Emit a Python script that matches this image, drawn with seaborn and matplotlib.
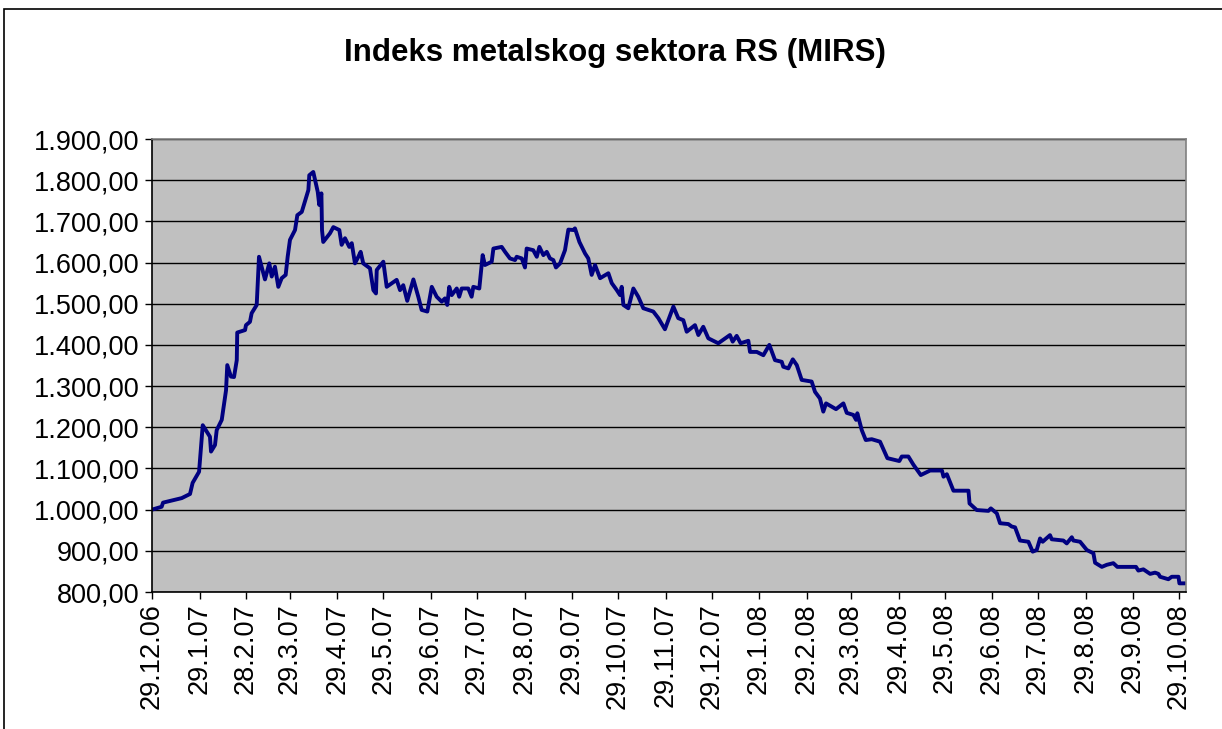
import pandas as pd
import matplotlib
matplotlib.use("Agg")
import matplotlib.pyplot as plt
import seaborn as sns
from matplotlib.patches import Rectangle
from matplotlib.ticker import FuncFormatter

# days after 29.12.2006 and index values
days = [0, 6.3, 7.2, 19.4, 24.8, 26.5, 30.7, 33.1, 37.8, 38.5, 41.1, 42.2, 45.5, 48.3, 49.1,
        51.5, 53.5, 55.3, 55.6, 60.7, 61.3, 63.9, 65.0, 68.3, 69.8, 73.7, 76.5, 78.1, 80.2,
        82.4, 84.6, 87.2, 88.5, 90.0, 93.3, 94.8, 97.7, 102.0, 102.6, 105.2, 108.1, 109.1,
        110.5, 110.9, 111.7, 116.1, 118.3, 122.2, 123.7, 125.9, 128.7, 130.3, 132.4, 134.6,
        136.1, 137.8, 142.2, 144.4, 146.1, 146.6, 150.9, 153.1, 159.6, 161.8, 163.9, 166.5,
        170.5, 173.7, 175.9, 179.6, 182.5, 185.7, 189.0, 191.1, 192.6, 193.9, 195.5, 198.8,
        200.4, 202.0, 206.3, 208.5, 209.6, 213.5, 215.7, 217.2, 221.6, 222.7, 228.1, 230.3,
        233.5, 236.8, 237.9, 241.2, 243.3, 244.4, 248.7, 251.0, 252.7, 255.3, 257.5, 259.6,
        261.8, 263.5, 266.2, 269.4, 271.6, 274.8, 275.9, 278.8, 282.5, 284.6, 286.8, 289.0,
        292.3, 297.7, 299.9, 303.2, 305.3, 306.4, 307.5, 310.7, 314.0, 317.2, 320.5, 327.0,
        330.3, 334.6, 336.8, 340.1, 343.3, 346.6, 348.8, 354.2, 356.4, 359.6, 362.9, 369.4,
        377.0, 378.8, 381.4, 384.0, 389.0, 390.1, 394.5, 398.8, 402.7, 406.4, 410.8, 411.8,
        415.1, 418.0, 420.6, 423.8, 430.3, 432.5, 435.7, 437.9, 439.7, 443.4, 446.2, 451.0,
        453.2, 457.5, 459.3, 460.1, 463.0, 465.6, 469.5, 474.9, 479.7, 487.5, 489.1, 493.4,
        496.7, 501.5, 507.6, 515.3, 516.3, 518.5, 522.8, 532.6, 533.3, 538.0, 545.6, 547.2,
        551.1, 553.2, 558.6, 560.8, 563.0, 566.2, 571.7, 574.5, 577.1, 579.3, 581.0, 585.8,
        586.9, 594.5, 596.7, 600.0, 601.0, 605.4, 609.8, 614.1, 615.2, 619.6, 622.8, 627.1,
        629.7, 641.9, 643.4, 646.7, 651.1, 654.3, 656.5, 657.6, 663.0, 665.2, 669.6, 670.2,
        673.9]
values = [1000, 1007, 1017, 1028, 1038, 1065, 1092, 1205, 1177, 1141, 1157, 1193, 1218, 1290, 1351,
          1323, 1322, 1363, 1430, 1436, 1448, 1456, 1477, 1497, 1614, 1559, 1598, 1566, 1590,
          1541, 1562, 1570, 1614, 1655, 1679, 1715, 1723, 1776, 1812, 1820, 1772, 1740,
          1768, 1679, 1650, 1671, 1686, 1679, 1643, 1659, 1638, 1647, 1598, 1614,
          1626, 1598, 1586, 1533, 1525, 1582, 1602, 1541, 1558, 1533, 1545, 1507,
          1559, 1517, 1485, 1481, 1541, 1517, 1505, 1513, 1497, 1541, 1521, 1537,
          1517, 1537, 1537, 1517, 1541, 1537, 1618, 1594, 1602, 1634, 1638, 1626,
          1610, 1606, 1614, 1610, 1588, 1634, 1630, 1614, 1638, 1618, 1626, 1610,
          1606, 1588, 1598, 1630, 1680, 1679, 1683, 1650, 1622, 1610, 1570, 1594,
          1562, 1574, 1550, 1533, 1521, 1541, 1497, 1489, 1537, 1517, 1489, 1481,
          1465, 1438, 1460, 1493, 1465, 1460, 1432, 1448, 1424, 1444, 1416, 1404,
          1424, 1408, 1422, 1404, 1410, 1383, 1383, 1375, 1400, 1363, 1359, 1347,
          1343, 1365, 1351, 1315, 1311, 1286, 1270, 1238, 1258, 1250, 1244, 1258,
          1235, 1230, 1218, 1234, 1193, 1169, 1171, 1165, 1125, 1118, 1129, 1129,
          1109, 1084, 1095, 1095, 1080, 1086, 1046, 1046, 1015, 999, 997, 1003,
          991, 967, 965, 959, 957, 925, 922, 898, 902, 930, 922, 938,
          928, 925, 918, 933, 925, 922, 902, 894, 871, 861, 866, 870,
          861, 861, 852, 855, 844, 847, 844, 837, 831, 837, 837, 821,
          821]

tick_labels = ["29.12.06", "29.1.07", "28.2.07", "29.3.07", "29.4.07", "29.5.07", "29.6.07",
               "29.7.07", "29.8.07", "29.9.07", "29.10.07", "29.11.07", "29.12.07", "29.1.08",
               "29.2.08", "29.3.08", "29.4.08", "29.5.08", "29.6.08", "29.7.08", "29.8.08",
               "29.9.08", "29.10.08"]

start = pd.Timestamp("2006-12-29")
df = pd.DataFrame({"Datum": start + pd.to_timedelta(days, unit="D"), "MIRS": values})
tick_dates = pd.to_datetime(tick_labels, format="%d.%m.%y")

sns.set_style("white")
plt.rcParams["font.family"] = ["Liberation Sans", "DejaVu Sans"]

fig = plt.figure(figsize=(12.22, 7.29), dpi=100)
ax = fig.add_axes([152 / 1222, 137 / 729, 1034 / 1222, 453 / 729])
ax.set_facecolor("#C0C0C0")

sns.lineplot(data=df, x="Datum", y="MIRS", ax=ax, color="#000080", linewidth=2.8)

ax.set_ylim(800, 1900)
ax.set_yticks(range(800, 2000, 100))
ax.yaxis.set_major_formatter(FuncFormatter(
    lambda v, p: f"{v:,.2f}".replace(",", "X").replace(".", ",").replace("X", ".")))
ax.set_xlim(start, start + pd.Timedelta(days=674.5))
ax.set_xticks(tick_dates)
ax.set_xticklabels(tick_labels, rotation=90)

ax.grid(axis="y", color="black", linewidth=1.0)
ax.set_axisbelow(True)
ax.set_xlabel("")
ax.set_ylabel("")
ax.tick_params(axis="both", direction="out", length=5, width=1, color="black",
               labelsize=19.5, labelcolor="black", bottom=True, left=True)
ax.tick_params(axis="x", pad=3)
ax.tick_params(axis="y", pad=4)

for side in ["left", "bottom"]:
    ax.spines[side].set_color("black")
    ax.spines[side].set_linewidth(1.2)
for side in ["top", "right"]:
    ax.spines[side].set_color("#808080")
    ax.spines[side].set_linewidth(1.2)

fig.text(0.503, 1 - 53 / 729, "Indeks metalskog sektora RS (MIRS)", ha="center", va="center",
         fontsize=22.5, fontweight="bold", color="black")

# chart area border (only top and left fall inside the picture)
fig.patches.append(Rectangle((4 / 1222, -0.1), 1.2, 1.1 - 9 / 729, transform=fig.transFigure,
                             fill=False, edgecolor="black", linewidth=1.2))

fig.savefig("out.png", dpi=100)
